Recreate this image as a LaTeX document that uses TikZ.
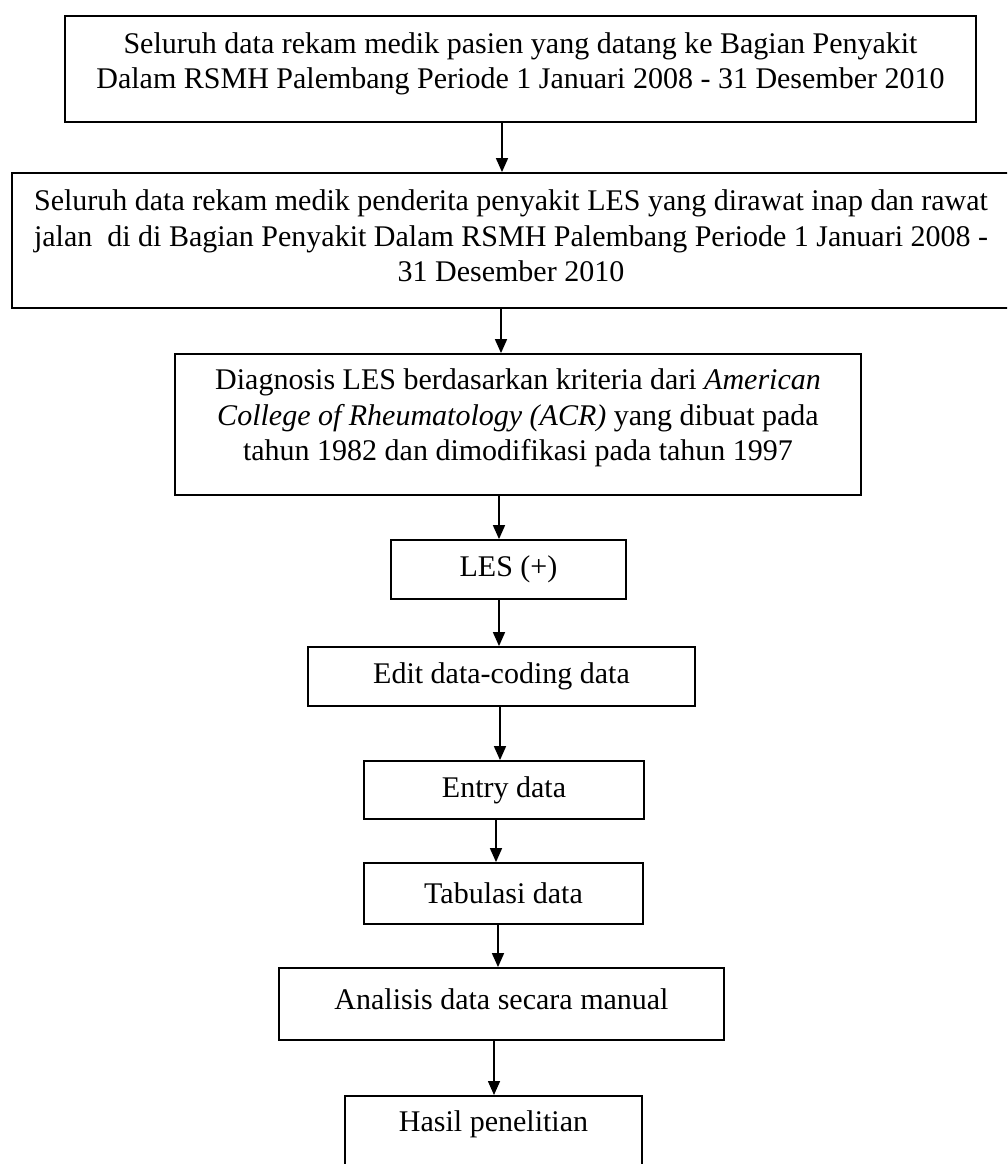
\documentclass[tikz,border=0pt]{standalone}
\usepackage{fontspec}
\setmainfont{Liberation Serif}
\usetikzlibrary{arrows.meta}
\begin{document}
\begin{tikzpicture}[x=1pt,y=-1pt,
  box/.style={draw, line width=1.8pt, inner sep=0pt, align=center,
    font=\fontsize{30}{35.5}\selectfont},
  lbl/.style={inner sep=0pt, align=center, font=\fontsize{30}{35.5}\selectfont},
  arr/.style={line width=1.6pt, -{Triangle[length=14pt,width=12pt]}}]
\useasboundingbox[fill=white] (0,0) rectangle (1007,1164);
\begin{scope}
\clip (0,0) rectangle (1007,1164);
\node[box, minimum width=911, minimum height=106] (n1) at (520.5,69) {};
\node[lbl] (t1) at (520.5,64) {Seluruh data rekam medik pasien yang datang ke Bagian Penyakit\\Dalam RSMH Palembang Periode 1 Januari 2008 - 31 Desember 2010};
\node[box, minimum width=998, minimum height=135] (n2) at (511,240.5) {};
\node[lbl] (t2) at (511,236) {Seluruh data rekam medik penderita penyakit LES yang dirawat inap dan rawat\\jalan\ \ di di Bagian Penyakit Dalam RSMH Palembang Periode 1 Januari 2008 -\\31 Desember 2010};
\node[box, minimum width=686, minimum height=141] (n3) at (518,424.5) {};
\node[lbl] (t3) at (518,418) {Diagnosis LES berdasarkan kriteria dari \textit{American}\\\textit{College of Rheumatology (ACR)} yang dibuat pada\\tahun 1982 dan dimodifikasi pada tahun 1997};
\node[box, minimum width=235, minimum height=59] (n4) at (508.5,569.5) {LES (+)};
\node[box, minimum width=387, minimum height=59] (n5) at (501.5,676.5) {Edit data-coding data};
\node[box, minimum width=280, minimum height=58] (n6) at (504,790) {Entry data};
\node[box, minimum width=279, minimum height=61] (n7) at (503.5,893.5) {Tabulasi data};
\node[box, minimum width=445, minimum height=72] (n8) at (501.5,1004) {};
\node[lbl] (t8) at (501.5,999) {Analisis data secara manual};
\node[box, minimum width=297, minimum height=110, anchor=north] (n9) at (493.5,1095) {};
\node[lbl] (t9) at (493.5,1124) {Hasil penelitian};
\end{scope}
\draw[arr] (502,0 |- n1.south) -- (502,0 |- n2.north);
\draw[arr] (501,0 |- n2.south) -- (501,0 |- n3.north);
\draw[arr] (499,0 |- n3.south) -- (499,0 |- n4.north);
\draw[arr] (499,0 |- n4.south) -- (499,0 |- n5.north);
\draw[arr] (500,0 |- n5.south) -- (500,0 |- n6.north);
\draw[arr] (496,0 |- n6.south) -- (496,0 |- n7.north);
\draw[arr] (498,0 |- n7.south) -- (498,0 |- n8.north);
\draw[arr] (494,0 |- n8.south) -- (494,0 |- n9.north);
\end{tikzpicture}
\end{document}
